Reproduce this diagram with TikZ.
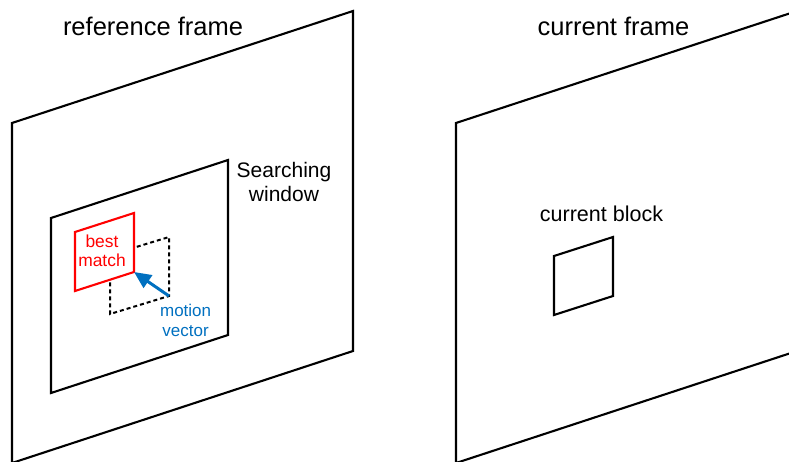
\documentclass[tikz,border=0pt]{standalone}
\usepackage{fontspec}
\setmainfont{Liberation Sans}
\usetikzlibrary{arrows.meta}
\definecolor{mvblue}{RGB}{0,112,192}
\tikzset{
  frameline/.style={draw=black, line width=2.1pt, line join=miter},
  matchbox/.style={draw=red, line width=2.1pt, fill=white},
  prevbox/.style={draw=black, line width=2pt, dash pattern=on 4pt off 3pt},
  mvarrow/.style={draw=mvblue, line width=3pt, -{Triangle[length=17pt,width=15pt]}},
  label/.style={inner sep=0pt, align=center},
}
\begin{document}
\begin{tikzpicture}[x=1pt,y=-1pt]
  \clip (0,0) rectangle (789,462);
  \fill[white] (0,0) rectangle (789,462);

  % reference frame with its search window
  \draw[frameline] (12,123) -- (353,11) -- (353,351) -- (12,463) -- cycle;
  \draw[frameline] (51,218) -- (228,160) -- (228,335) -- (51,393) -- cycle;

  % co-located block (dashed) and the best matching block on top of it
  \draw[prevbox] (110,255) -- (169,237) -- (169,296) -- (110,314) -- cycle;
  \draw[matchbox] (75,232) -- (134,213) -- (134,272) -- (75,291) -- cycle;
  \coordinate (prevcorner) at (169,296);
  \coordinate (matchcorner) at (134,272);
  \draw[mvarrow] (prevcorner) -- (matchcorner);

  % current frame with the current block
  \draw[frameline] (456,123) -- (797,11) -- (797,351) -- (456,463) -- cycle;
  \draw[frameline] (554,256) -- (613,237) -- (613,296) -- (554,315) -- cycle;

  % labels
  \node[label, anchor=base, font=\fontsize{25.5}{28}\selectfont] (reflbl) at (153,36) {reference frame};
  \node[label, anchor=base, font=\fontsize{25.5}{28}\selectfont] (curlbl) at (613.5,36) {current frame};
  \node[label, font=\fontsize{21}{24.5}\selectfont] (winlbl) at (284,182) {Searching\\window};
  \node[label, anchor=base, font=\fontsize{21.5}{24}\selectfont] (blklbl) at (601.5,221.7) {current block};
  \node[label, text=red, font=\fontsize{17.4}{19}\selectfont] (bestlbl) at (102,251) {best\\match};
  \node[label, text=mvblue, font=\fontsize{17}{20}\selectfont] (mvlbl) at (185.6,320) {motion\\vector};
\end{tikzpicture}
\end{document}
